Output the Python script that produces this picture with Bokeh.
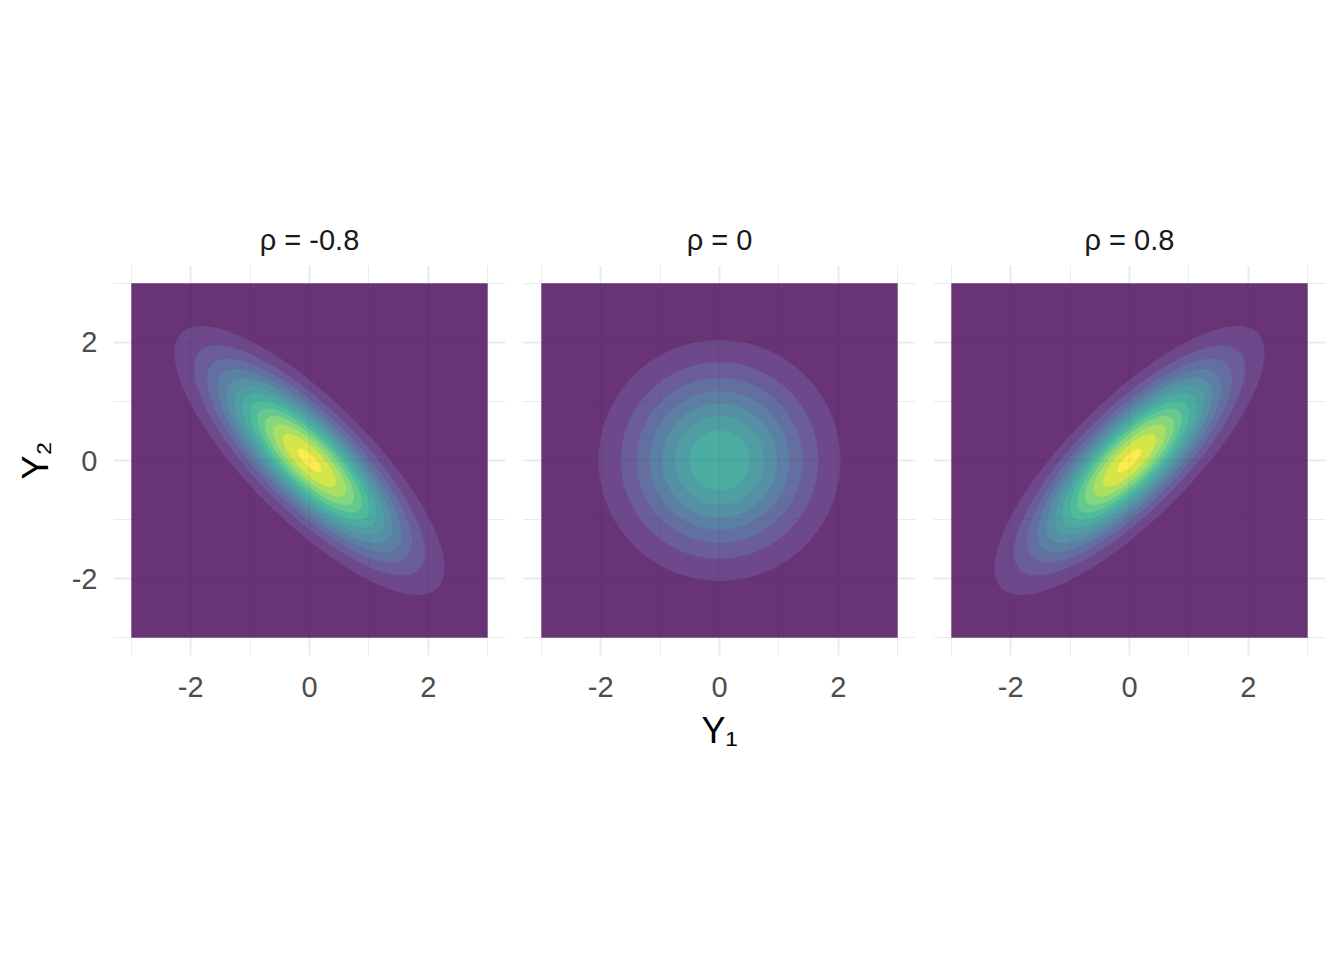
import numpy as np
from bokeh.plotting import figure
from bokeh.layouts import row
from bokeh.models import Range1d, FixedTicker
from bokeh.palettes import viridis
from bokeh.embed import file_html
from bokeh.resources import INLINE

# ---- data ----
rhos = [-0.8, 0.0, 0.8]
panel_titles = ["ρ = -0.8", "ρ = 0", "ρ = 0.8"]
breaks = [0.00, 0.02, 0.04, 0.06, 0.08, 0.10, 0.12, 0.14,
          0.16, 0.18, 0.20, 0.22, 0.24, 0.26, 0.28]
major_ticks = [-2, 0, 2]
minor_ticks = [-3, -1, 1, 3]
tick_labels = {-2: "-2", 0: "0", 2: "2"}
grid_lim = [-3.0, 3.0]
fill_alpha = 0.8

FONT = "Liberation Sans"


def blend(hexcol, a):
    h = hexcol.lstrip("#")
    rgb = [int(h[k:k + 2], 16) for k in (0, 2, 4)]
    out = [round(a * c + (1 - a) * 255) for c in rgb]
    return "#%02x%02x%02x" % tuple(out)


colors = [blend(c, fill_alpha) for c in viridis(len(breaks) - 1)]

g = np.linspace(grid_lim[0], grid_lim[1], 401)
X, Y = np.meshgrid(g, g)


def density(rho):
    d = 1.0 - rho ** 2
    q = (X ** 2 - 2 * rho * X * Y + Y ** 2) / d
    return np.exp(-0.5 * q) / (2 * np.pi * np.sqrt(d))


FRAME_W, FRAME_H = 392, 390
TOP, BOTTOM = 265, 130


def make_panel(i):
    first = i == 0
    left = 113 if first else 9
    right = 9
    p = figure(width=left + FRAME_W + right, height=TOP + FRAME_H + BOTTOM,
               x_range=Range1d(-3.3, 3.3), y_range=Range1d(-3.3, 3.3),
               output_backend="svg", toolbar_location=None,
               y_axis_location="left" if first else None,
               min_border_left=left, min_border_right=right,
               min_border_top=TOP, min_border_bottom=BOTTOM,
               background_fill_color="white", border_fill_color="white",
               outline_line_color=None, title=panel_titles[i])
    p.title.align = "center"
    p.title.text_font = FONT
    p.title.text_font_size = "29px"
    p.title.text_font_style = "normal"
    p.title.text_color = "#1A1A1A"
    p.title.standoff = 19

    ticker = FixedTicker(ticks=major_ticks, minor_ticks=minor_ticks)
    for ax in p.xaxis + p.yaxis:
        ax.ticker = ticker
        ax.major_label_overrides = tick_labels
        ax.axis_line_color = None
        ax.major_tick_line_color = None
        ax.minor_tick_line_color = None
        ax.major_tick_out = 0
        ax.major_tick_in = 0
        ax.minor_tick_out = 0
        ax.minor_tick_in = 0
        ax.major_label_text_font = FONT
        ax.major_label_text_font_size = "29px"
        ax.major_label_text_color = "#4D4D4D"
        ax.axis_label_text_font = FONT
        ax.axis_label_text_font_size = "36px"
        ax.axis_label_text_font_style = "normal"
        ax.axis_label_text_color = "#000000"
    p.xaxis.major_label_standoff = 21
    if first:
        p.yaxis.major_label_standoff = 16
        p.yaxis.axis_label = "Y₂"
        p.yaxis.axis_label_standoff = 13
    if i == 1:
        p.xaxis.axis_label = "Y₁"
        p.xaxis.axis_label_standoff = 10

    for gr in p.grid:
        gr.ticker = ticker
        gr.grid_line_color = "#EBEBEB"
        gr.grid_line_width = 2
        gr.minor_grid_line_color = "#EBEBEB"
        gr.minor_grid_line_width = 1

    z = density(rhos[i])
    top = breaks[-1]
    # nested, opaque (pre-blended) regions: no seams between bands
    for k in range(len(breaks) - 1):
        if z.max() <= breaks[k]:
            break
        p.contour(x=g, y=g, z=z, levels=[breaks[k], top],
                  fill_color=colors[k], fill_alpha=1.0, line_color=None)

    # faint grid showing through the translucent fill
    lo, hi = grid_lim
    for ticks, w in ((major_ticks, 2), (minor_ticks, 1)):
        inner = [t for t in ticks if lo < t < hi]
        if inner:
            p.segment(x0=inner, y0=[lo] * len(inner), x1=inner, y1=[hi] * len(inner),
                      line_color="black", line_alpha=0.035, line_width=w)
            p.segment(x0=[lo] * len(inner), y0=inner, x1=[hi] * len(inner), y1=inner,
                      line_color="black", line_alpha=0.035, line_width=w)
    return p


panels = [make_panel(i) for i in range(3)]
layout = row(*panels)
open("out.html", "w").write(file_html(layout, INLINE))
